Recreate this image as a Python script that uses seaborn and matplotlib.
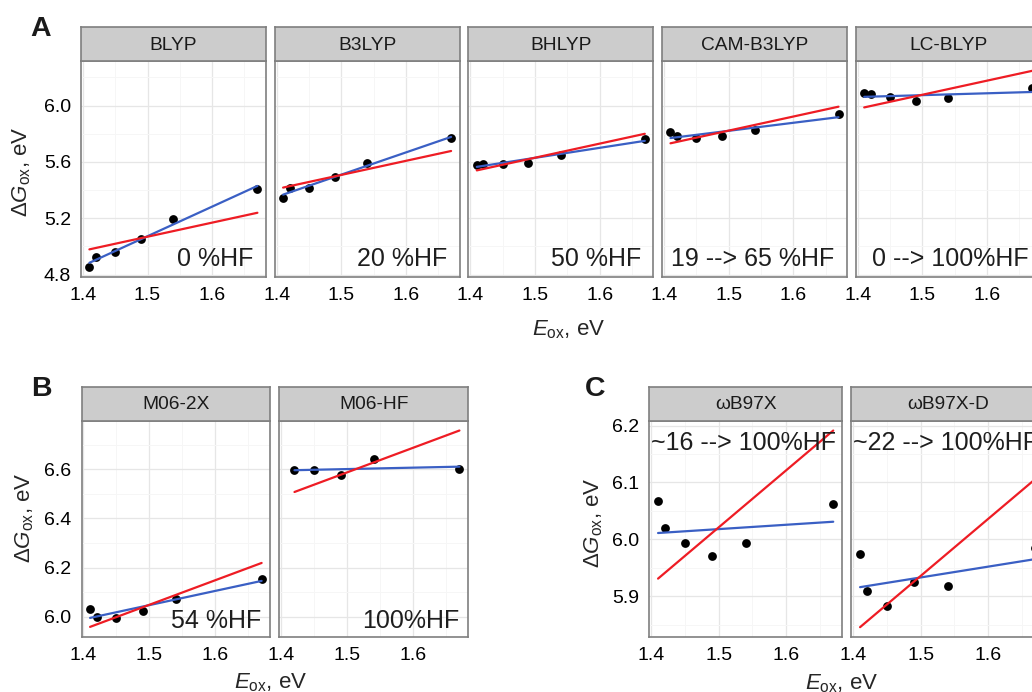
import numpy as np
import pandas as pd
import matplotlib
matplotlib.use("Agg")
import matplotlib.pyplot as plt
import seaborn as sns

# ---------------- data ----------------
e_ox = [1.41, 1.42, 1.45, 1.49, 1.54, 1.67]

panel_a_names = ["BLYP", "B3LYP", "BHLYP", "CAM-B3LYP", "LC-BLYP"]
blyp = [4.852, 4.922, 4.960, 5.052, 5.195, 5.410]
b3lyp = [5.344, 5.412, 5.414, 5.492, 5.593, 5.769]
bhlyp = [5.581, 5.588, 5.582, 5.592, 5.652, 5.762]
cam_b3lyp = [5.810, 5.781, 5.772, 5.786, 5.824, 5.939]
lc_blyp = [6.089, 6.082, 6.061, 6.035, 6.052, 6.122]
panel_a_labels = ["0 %HF", "20 %HF", "50 %HF", "19 --> 65 %HF", "0 --> 100%HF"]

panel_b_names = ["M06-2X", "M06-HF"]
m06_2x = [6.030, 6.000, 5.995, 6.022, 6.073, 6.155]
m06_hf = [np.nan, 6.596, 6.596, 6.577, 6.640, 6.600]
panel_b_labels = ["54 %HF", "100%HF"]

panel_c_names = ["ωB97X", "ωB97X-D"]
wb97x = [6.067, 6.020, 5.9935, 5.971, 5.9935, 6.062]
wb97x_d = [5.974, 5.910, 5.883, 5.9245, 5.919, 5.985]
panel_c_labels = ["~16 --> 100%HF", "~22 --> 100%HF"]

x_ticks = [1.4, 1.5, 1.6]
a_yticks = [4.8, 5.2, 5.6, 6.0]
b_yticks = [6.0, 6.2, 6.4, 6.6]
c_yticks = [5.9, 6.0, 6.1, 6.2]

# ---------------- style ----------------
sns.set_theme(style="white")
plt.rcParams["font.family"] = ["Liberation Sans", "DejaVu Sans"]
plt.rcParams["mathtext.fontset"] = "custom"
plt.rcParams["mathtext.rm"] = "Liberation Sans"
plt.rcParams["mathtext.it"] = "Liberation Sans:italic"
plt.rcParams["mathtext.bf"] = "Liberation Sans:bold"

W, H = 1032, 692
fig = plt.figure(figsize=(W / 100, H / 100), dpi=100)
fig.patch.set_facecolor("white")

BLUE = "#3A5FC4"
RED = "#EE1C24"
BORDER = "#7F7F7F"


def rect(x0, y0, x1, y1):
    return [x0 / W, 1 - y1 / H, (x1 - x0) / W, (y1 - y0) / H]


def fits(y):
    df = pd.DataFrame({"x": e_ox, "y": y}).dropna()
    slope, icpt = np.polyfit(df["x"], df["y"], 1)
    xs = np.array([df["x"].min(), df["x"].max()])
    off = (df["y"] - df["x"]).mean()
    return df, xs, slope * xs + icpt, xs + off


def expanded(lo, hi, f=0.05):
    r = hi - lo
    return lo - f * r, hi + f * r


def minors(ticks, lim):
    step = ticks[1] - ticks[0]
    cand = [ticks[0] - step / 2] + [t + step / 2 for t in ticks]
    return [c for c in cand if lim[0] <= c <= lim[1]]


def draw_row(names, series, labels, yticks, lefts, width, top, bottom,
             strip_top, lab_x, lab_y, lab_ha):
    all_y = []
    for y in series:
        df, xs, yb, yr = fits(y)
        all_y += list(df["y"]) + list(yb) + list(yr)
    ylim = expanded(min(all_y), max(all_y))
    xlim = expanded(min(e_ox), max(e_ox))
    for i, (name, y, lab) in enumerate(zip(names, series, labels)):
        l = lefts[i]
        ax = fig.add_axes(rect(l, top, l + width, bottom))
        df, xs, yb, yr = fits(y)
        sns.scatterplot(data=df, x="x", y="y", ax=ax, color="black", s=40,
                        linewidth=0, zorder=3)
        sns.lineplot(x=xs, y=yb, ax=ax, color=BLUE, lw=1.6, zorder=4)
        sns.lineplot(x=xs, y=yr, ax=ax, color=RED, lw=1.6, zorder=5)
        ax.set_xlim(xlim)
        ax.set_ylim(ylim)
        ax.set_xticks(x_ticks)
        ax.set_xticklabels([f"{t:.1f}" for t in x_ticks])
        ax.set_yticks(yticks)
        ax.set_xticks(minors(x_ticks, xlim), minor=True)
        ax.set_yticks(minors(yticks, ylim), minor=True)
        ax.grid(which="major", color="#E6E6E6", lw=0.9)
        ax.grid(which="minor", color="#F6F6F6", lw=0.7)
        ax.set_axisbelow(True)
        ax.set_xlabel("")
        ax.set_ylabel("")
        ax.tick_params(which="major", direction="out", length=4.3, width=1.1,
                       color="#111111", labelsize=14, pad=3.0,
                       labelcolor="black")
        ax.tick_params(which="minor", length=0)
        if i == 0:
            ax.set_yticklabels([f"{t:.1f}" for t in yticks])
        else:
            ax.tick_params(axis="y", which="both", left=False, labelleft=False)
        for sp in ax.spines.values():
            sp.set_color(BORDER)
            sp.set_linewidth(1.2)
        ax.text(lab_x, lab_y, lab, ha=lab_ha, va="baseline", fontsize=18,
                color="#1E1E1E", zorder=6)
        # strip
        sax = fig.add_axes(rect(l, strip_top, l + width, top))
        sax.set_facecolor("#CCCCCC")
        sax.set_xticks([])
        sax.set_yticks([])
        for sp in sax.spines.values():
            sp.set_color(BORDER)
            sp.set_linewidth(1.2)
        sax.text(0.5, 0.47, name, ha="center", va="center", fontsize=13.8,
                 color="#1A1A1A", transform=sax.transAxes)


# Panel A
draw_row(panel_a_names, [blyp, b3lyp, bhlyp, cam_b3lyp, lc_blyp],
         panel_a_labels, a_yticks,
         [81 + i * 193.7 for i in range(5)], 184.8, 61, 277, 27,
         1.664, 4.86, "right")
# Panel B
draw_row(panel_b_names, [m06_2x, m06_hf], panel_b_labels, b_yticks,
         [81.5 + i * 197.8 for i in range(2)], 188.7, 420.7, 636.7, 387,
         1.670, 5.954, "right")
# Panel C
draw_row(panel_c_names, [wb97x, wb97x_d], panel_c_labels, c_yticks,
         [649.3 + i * 202.0 for i in range(2)], 192.7, 420.7, 637.0, 387,
         1.399, 6.157, "left")

# axis titles
ylab = "Δ$G_{\\mathrm{ox}}$, eV"
xlab = "$E_{\\mathrm{ox}}$, eV"
fig.text(22 / W, 1 - 172 / H, ylab, rotation=90, ha="center", va="center",
         fontsize=16)
fig.text(25 / W, 1 - 518 / H, ylab, rotation=90, ha="center", va="center",
         fontsize=16)
fig.text(594 / W, 1 - 523 / H, ylab, rotation=90, ha="center", va="center",
         fontsize=16)
fig.text(569 / W, 1 - 335 / H, xlab, ha="center", va="baseline", fontsize=16)
fig.text(271 / W, 1 - 688 / H, xlab, ha="center", va="baseline", fontsize=16)
fig.text(842 / W, 1 - 689 / H, xlab, ha="center", va="baseline", fontsize=16)

# panel letters
for letter, x, y in [("A", 30.5, 36), ("B", 31.5, 396), ("C", 585, 396)]:
    fig.text(x / W, 1 - y / H, letter, ha="left", va="baseline",
             fontsize=20.5, fontweight="bold", color="#1A1A1A")

fig.savefig("out.png", dpi=100)
